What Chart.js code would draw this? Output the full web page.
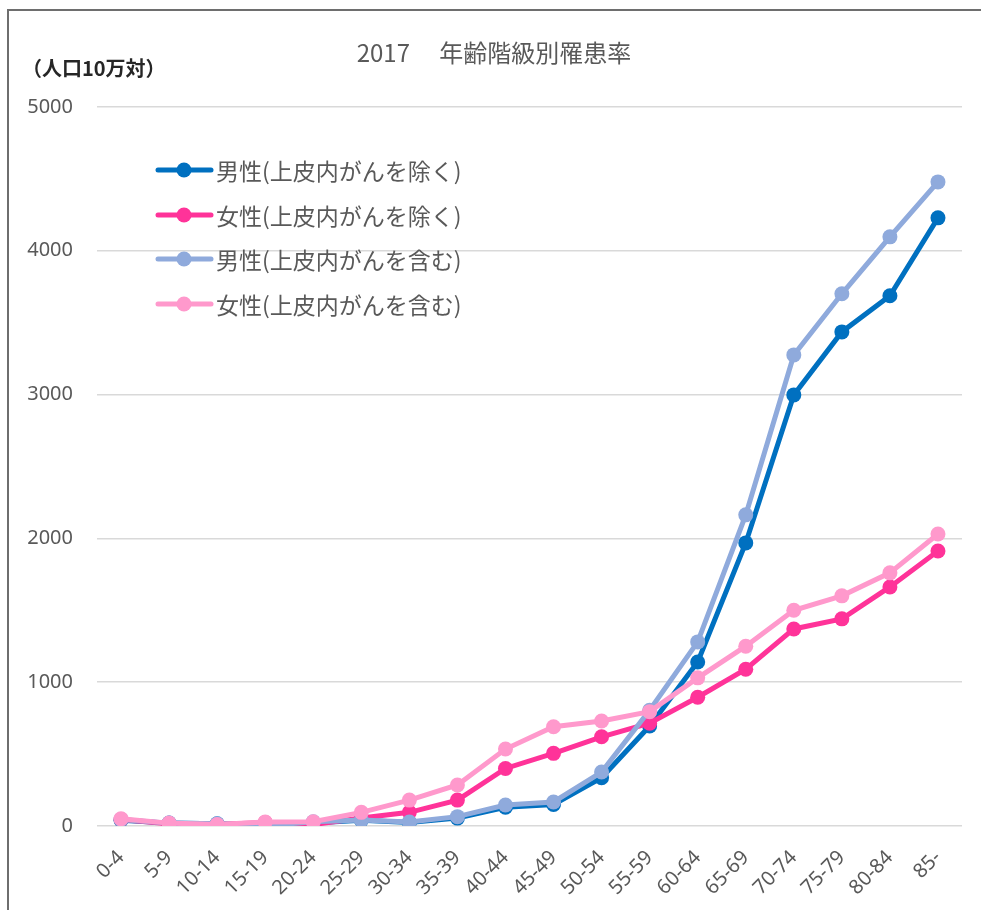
<!DOCTYPE html>
<html>
<head>
<meta charset="utf-8">
<script src="https://cdn.jsdelivr.net/npm/chart.js@4/dist/chart.umd.min.js"></script>
<style>
  html, body { margin: 0; padding: 0; background: #fff; }
  body { width: 981px; height: 910px; position: relative; overflow: hidden; }
  #frame { position: absolute; left: 7px; top: 9px; width: 1100px; height: 1100px;
           border-left: 2px solid #6e6e6e; border-top: 2px solid #6e6e6e; }
  #wrap { position: absolute; left: 0; top: 0; width: 981px; height: 910px; }
</style>
</head>
<body>
<div id="frame"></div>
<div id="wrap"><canvas id="myChart" width="981" height="910"></canvas></div>
<script>
// 年齢階級別罹患率 2017 (人口10万対)

const ageGroups = ['0-4','5-9','10-14','15-19','20-24','25-29','30-34','35-39','40-44',
                   '45-49','50-54','55-59','60-64','65-69','70-74','75-79','80-84','85-'];

const maleExcl   = [40, 20, 15, 5, 20, 40, 25, 55, 130, 150, 335, 695, 1140, 1968, 2997, 3435, 3686, 4228];
const femaleExcl = [45, 15, 10, 25, 10, 55, 95, 180, 400, 505, 620, 715, 895, 1090, 1370, 1440, 1662, 1912];
const maleIncl   = [45, 20, 15, 0, 30, 42, 28, 65, 146, 167, 375, 805, 1280, 2163, 3275, 3700, 4096, 4478];
const femaleIncl = [50, 20, 10, 28, 30, 95, 180, 285, 535, 690, 730, 795, 1030, 1250, 1500, 1600, 1760, 2030];

const seriesNames = ['男性(上皮内がんを除く)', '女性(上皮内がんを除く)', '男性(上皮内がんを含む)', '女性(上皮内がんを含む)'];
const seriesColors = ['#0070C0', '#FF3399', '#8FAADC', '#FF99CC'];

const yTicks = [0, 1000, 2000, 3000, 4000, 5000];

const textGray = '#595959';

const serie = (i, data, order) => ({
  label: seriesNames[i],
  data: data,
  borderColor: seriesColors[i],
  backgroundColor: seriesColors[i],
  pointBackgroundColor: seriesColors[i],
  pointBorderColor: seriesColors[i],
  pointRadius: 7.5,
  pointBorderWidth: 0,
  borderWidth: 5,
  tension: 0,
  fill: false,
  order: order
});

// leyenda dentro del area + rotulo de unidades
const extrasPlugin = {
  id: 'extras',
  afterDraw(chart) {
    const ctx = chart.ctx;
    ctx.save();
    ctx.font = 'bold 20px "Noto Sans CJK JP"';
    ctx.fillStyle = '#262626';
    ctx.textAlign = 'left';
    ctx.textBaseline = 'middle';
    ctx.fillText('（人口10万対）', 22, 68);

    ctx.font = '23px "Noto Sans CJK JP"';
    const rows = [170, 215, 259, 304];
    seriesNames.forEach((name, i) => {
      const y = rows[i];
      ctx.strokeStyle = seriesColors[i];
      ctx.lineWidth = 5;
      ctx.lineCap = 'round';
      ctx.beginPath();
      ctx.moveTo(158, y);
      ctx.lineTo(211, y);
      ctx.stroke();
      ctx.fillStyle = seriesColors[i];
      ctx.beginPath();
      ctx.arc(184, y, 7.5, 0, Math.PI * 2);
      ctx.fill();
      ctx.fillStyle = textGray;
      ctx.fillText(name, 216, y + 1);
    });
    ctx.restore();
  }
};

const Canvas = document.getElementById('myChart');

const lineChart = new Chart(Canvas, {
  type: 'line',
  data: {
    labels: ageGroups,
    datasets: [
      serie(0, maleExcl, 3),
      serie(1, femaleExcl, 2),
      serie(2, maleIncl, 1),
      serie(3, femaleIncl, 0)
    ]
  },
  options: {
    responsive: false,
    animation: false,
    layout: { padding: { left: 26, right: 19, top: 0, bottom: 0 } },
    plugins: {
      legend: { display: false },
      tooltip: { enabled: false },
      title: {
        display: true,
        text: '2017　 年齢階級別罹患率',
        color: textGray,
        font: { family: '"Noto Sans CJK JP"', size: 24, weight: 'normal', lineHeight: 1.2 },
        padding: { top: 38, bottom: 40 }
      }
    },
    scales: {
      x: {
        offset: true,
        grid: { display: false, drawTicks: false },
        border: { display: false },
        ticks: {
          color: textGray,
          font: { family: '"Noto Sans"', size: 20 },
          minRotation: 45,
          maxRotation: 45,
          autoSkip: false,
          padding: 20
        },
        afterFit: s => { s.height = 84; }
      },
      y: {
        min: 0,
        max: 5000,
        afterBuildTicks: s => { s.ticks = yTicks.map(v => ({ value: v })); },
        grid: { color: '#d9d9d9', lineWidth: 1.5, drawTicks: false },
        border: { display: false },
        ticks: {
          color: textGray,
          font: { family: '"Noto Sans"', size: 20 },
          padding: 24,
          callback: v => String(v)
        },
        afterFit: s => { s.width = 71; }
      }
    }
  },
  plugins: [extrasPlugin]
});
</script>
</body>
</html>
